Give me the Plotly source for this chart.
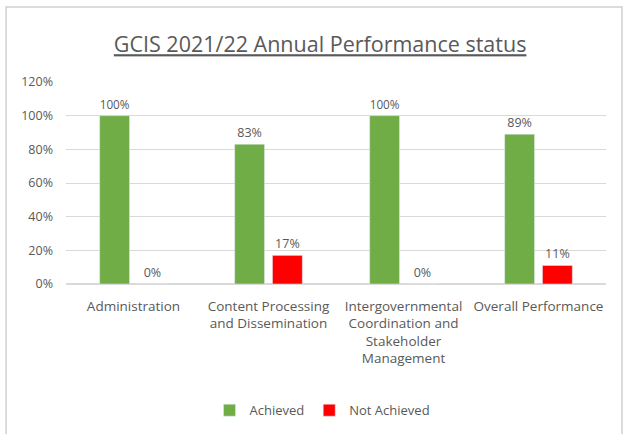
import plotly.graph_objects as go

categories = ["Administration", "Content Processing<br>and Dissemination",
              "Intergovernmental<br>Coordination and<br>Stakeholder<br>Management",
              "Overall Performance"]
achieved = [1.00, 0.83, 1.00, 0.89]
not_achieved = [0.00, 0.17, 0.00, 0.11]
y_ticks = [0, 0.2, 0.4, 0.6, 0.8, 1.0, 1.2]
y_tick_labels = ["0%", "20%", "40%", "60%", "80%", "100%", "120%"]

gray = "#595959"
font_family = "Open Sans, Liberation Sans, sans-serif"

fig = go.Figure()
fig.add_trace(go.Bar(x=categories, y=achieved, name="Achieved",
                     marker_color="#70AD47",
                     text=[f"{v:.0%}" for v in achieved], textposition="outside",
                     textfont=dict(size=12.5, color=gray), cliponaxis=False))
fig.add_trace(go.Bar(x=categories, y=not_achieved, name="Not Achieved",
                     marker_color="#FF0000",
                     text=[f"{v:.0%}" for v in not_achieved], textposition="outside",
                     textfont=dict(size=12.5, color=gray), cliponaxis=False))

fig.update_layout(
    width=624, height=434,
    margin=dict(l=66, r=18, t=82, b=150, autoexpand=False),
    paper_bgcolor="white", plot_bgcolor="white",
    font=dict(family=font_family, color=gray, size=12),
    barmode="group", bargap=0.44, bargroupgap=0.21,
    title=dict(text="<u>GCIS 2021/22 Annual Performance status</u>",
               x=0.513, xanchor="center", y=0.897, yanchor="middle",
               font=dict(size=21.5, color=gray)),
    legend=dict(orientation="h", x=0.475, xanchor="center", y=-0.625, yanchor="middle",
                font=dict(size=13, color=gray), itemwidth=30),
    xaxis=dict(showline=False, ticks="", tickfont=dict(size=13.5, color=gray),
               ticklabelstandoff=12, automargin=False),
    yaxis=dict(range=[0, 1.2], tickvals=y_ticks, ticktext=y_tick_labels,
               showgrid=True, gridcolor="#d9d9d9", zeroline=True, zerolinecolor="#d9d9d9",
               tickfont=dict(size=12.5, color=gray), ticklabelstandoff=12,
               automargin=False),
    shapes=[dict(type="rect", xref="paper", yref="paper",
                 x0=-0.111, x1=1.0296, y0=-0.75, y1=1.371,
                 line=dict(color="#d0d0d0", width=1.5))],
)

fig.write_html("out.html")
